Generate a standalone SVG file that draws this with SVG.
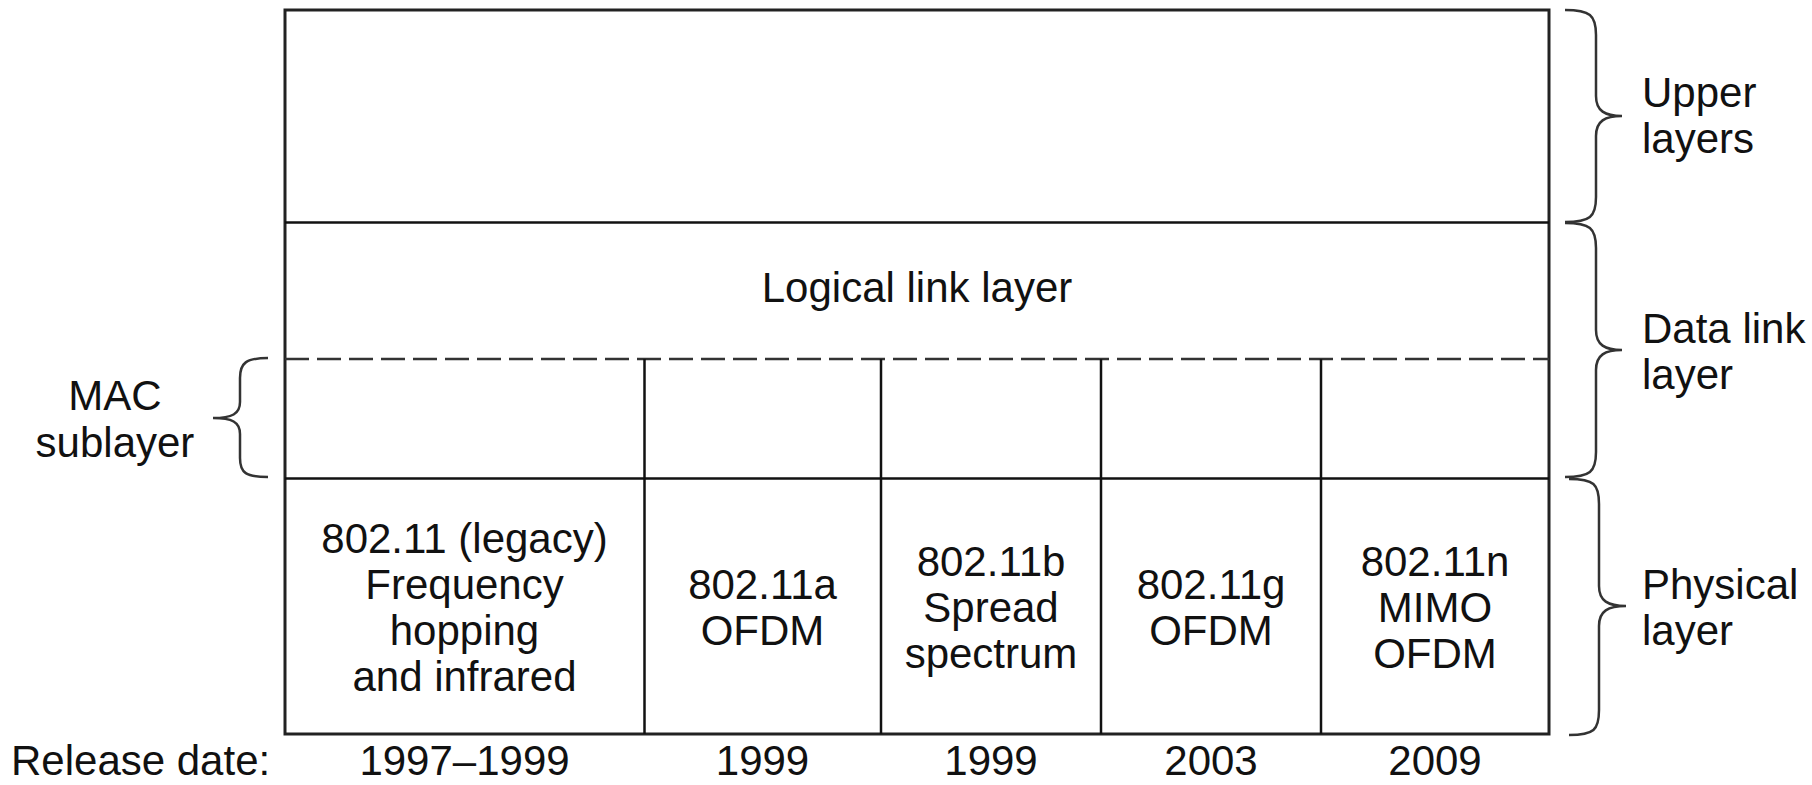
<svg xmlns="http://www.w3.org/2000/svg" width="1812" height="785" viewBox="0 0 1812 785">
<style>
  .t { font-family: "Liberation Sans", Arial, sans-serif; font-size: 42px; fill: #111; }
  .c { text-anchor: middle; }
  .ln { stroke: #111; stroke-width: 2.5; fill: none; }
  .box { stroke: #222; stroke-width: 3; fill: #fff; }
  .dash { stroke: #333; stroke-width: 2.5; stroke-dasharray: 24 8; fill: none; }
  .brace { stroke: #333; stroke-width: 2.5; fill: none; }
</style>
<rect width="1812" height="785" fill="#fff"/>
<g id="stack">
  <rect class="box" x="285" y="10" width="1264" height="724"/>
  <line class="ln" x1="285" y1="222.5" x2="1549" y2="222.5"/>
  <line class="dash" x1="285" y1="359" x2="1549" y2="359"/>
  <line class="ln" x1="285" y1="478.5" x2="1549" y2="478.5"/>
  <line class="ln" x1="644.5" y1="359" x2="644.5" y2="734"/>
  <line class="ln" x1="881" y1="359" x2="881" y2="734"/>
  <line class="ln" x1="1101" y1="359" x2="1101" y2="734"/>
  <line class="ln" x1="1321" y1="359" x2="1321" y2="734"/>
</g>
<g id="llc">
  <text class="t c" x="917" y="302">Logical link layer</text>
</g>
<g id="phy-legacy">
  <text class="t c" x="464.5" y="553">802.11 (legacy)</text>
  <text class="t c" x="464.5" y="599">Frequency</text>
  <text class="t c" x="464.5" y="645">hopping</text>
  <text class="t c" x="464.5" y="691">and infrared</text>
</g>
<g id="phy-a">
  <text class="t c" x="762.5" y="599">802.11a</text>
  <text class="t c" x="762.5" y="645">OFDM</text>
</g>
<g id="phy-b">
  <text class="t c" x="991" y="576">802.11b</text>
  <text class="t c" x="991" y="622">Spread</text>
  <text class="t c" x="991" y="668">spectrum</text>
</g>
<g id="phy-g">
  <text class="t c" x="1211" y="599">802.11g</text>
  <text class="t c" x="1211" y="645">OFDM</text>
</g>
<g id="phy-n">
  <text class="t c" x="1435" y="576">802.11n</text>
  <text class="t c" x="1435" y="622">MIMO</text>
  <text class="t c" x="1435" y="668">OFDM</text>
</g>
<g id="release">
  <text class="t" x="11" y="775">Release date:</text>
  <text class="t c" x="464.5" y="775">1997–1999</text>
  <text class="t c" x="762.5" y="775">1999</text>
  <text class="t c" x="991" y="775">1999</text>
  <text class="t c" x="1211" y="775">2003</text>
  <text class="t c" x="1435" y="775">2009</text>
</g>
<g id="braces">
  <path class="brace" d="M1565,10 C1590,10 1596,15 1596,35 L1596,96 C1596,111 1605,116 1622,116 C1605,116 1596,121 1596,136 L1596,197 C1596,217 1590,222 1565,222"/>
  <path class="brace" d="M1565,223 C1590,223 1596,228 1596,248 L1596,330 C1596,345 1605,350 1622,350 C1605,350 1596,355 1596,370 L1596,452 C1596,472 1590,477 1565,477"/>
  <path class="brace" d="M1569,479 C1594,479 1599,484 1599,504 L1599,586 C1599,601 1608,606 1626,606 C1608,606 1599,611 1599,626 L1599,710 C1599,730 1594,735 1569,735"/>
  <path class="brace" d="M268,358 C246,358 240,363 240,378 L240,402 C240,414 232,418 213,418 C232,418 240,422 240,434 L240,458 C240,473 246,477 268,477"/>
</g>
<g id="labels">
  <text class="t" x="1642" y="107">Upper</text>
  <text class="t" x="1642" y="153">layers</text>
  <text class="t" x="1642" y="343">Data link</text>
  <text class="t" x="1642" y="389">layer</text>
  <text class="t" x="1642" y="599">Physical</text>
  <text class="t" x="1642" y="645">layer</text>
  <text class="t c" x="115" y="410">MAC</text>
  <text class="t c" x="115" y="457">sublayer</text>
</g>
</svg>
